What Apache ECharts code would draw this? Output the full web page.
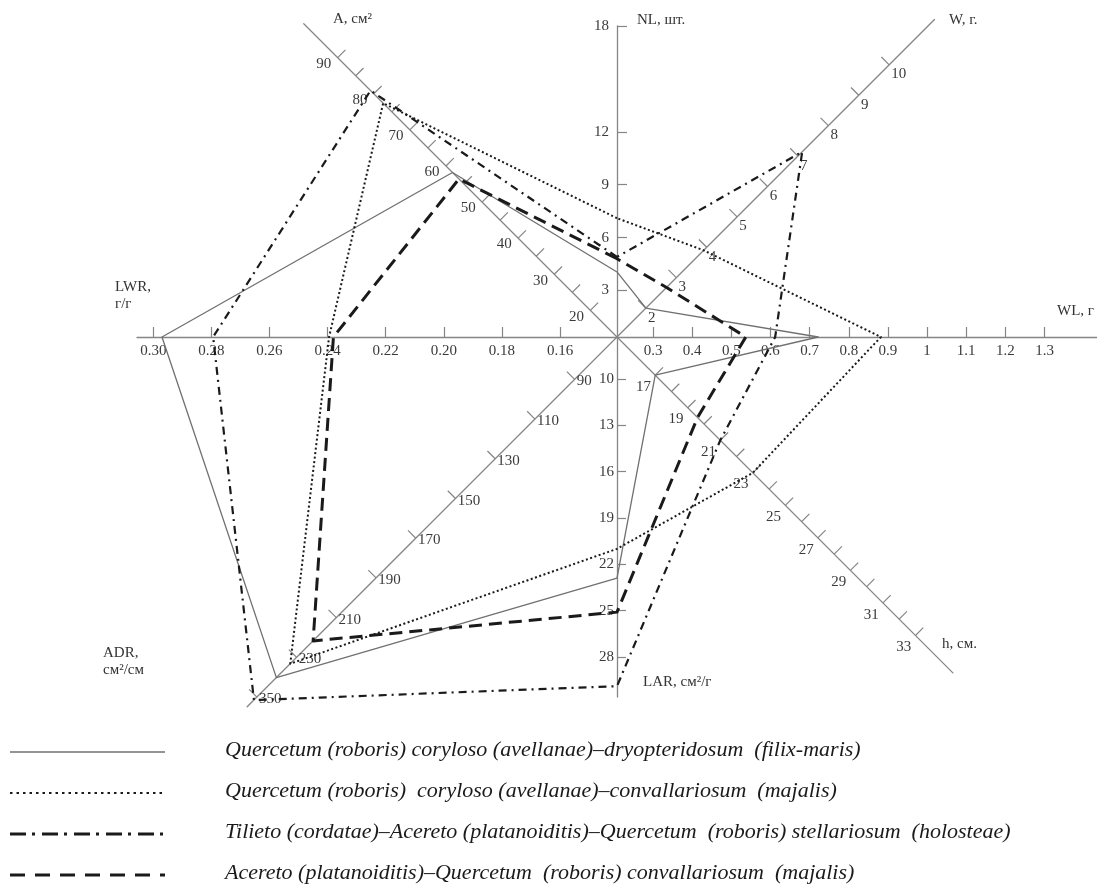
<!DOCTYPE html>
<html>
<head>
<meta charset="utf-8">
<title>Leaf indices of oak communities</title>
<script src="https://cdn.jsdelivr.net/npm/echarts@6/dist/echarts.min.js"></script>
<style>
  html, body { margin: 0; padding: 0; background: #fff; }
  #main { width: 1097px; height: 890px; }
</style>
</head>
<body>
<div id="main"></div>
<script>
// axes in radar order: counter-clockwise starting from the top
var axisNames = ['NL', 'A', 'LWR', 'ADR', 'LAR', 'h', 'WL', 'W'];

var communities = [
  'Quercetum (roboris) coryloso (avellanae)\u2013dryopteridosum  (filix-maris)',
  'Quercetum (roboris)  coryloso (avellanae)\u2013convallariosum  (majalis)',
  'Tilieto (cordatae)\u2013Acereto (platanoiditis)\u2013Quercetum  (roboris) stellariosum  (holosteae)',
  'Acereto (platanoiditis)\u2013Quercetum  (roboris) convallariosum  (majalis)'
];

// values, order NL, A, LWR, ADR, LAR, h, WL, W
var dryopteridosum = [4.05, 58.2, 0.297, 240.2, 22.9, 17.0, 0.722, 2.0];
var convallariosum = [7.1, 77.4, 0.2395, 233.2, 21.0, 23.0, 0.882, 3.9];
var stellariosum = [4.9, 80.9, 0.2794, 251.5, 29.9, 21.0, 0.612, 7.14];
var acerConvallariosum = [4.8, 56.4, 0.238, 221.7, 25.1, 19.6, 0.537, 2.68];

// tick marks and labels of every axis
var nlTicks = [3, 6, 9, 12, 18];
var aTicks = [20, 25, 30, 35, 40, 45, 50, 55, 60, 65, 70, 75, 80, 85, 90];
var aLabels = [20, 30, 40, 50, 60, 70, 80, 90];
var lwrTicks = [0.16, 0.18, 0.20, 0.22, 0.24, 0.26, 0.28, 0.30];
var adrTicks = [90, 110, 130, 150, 170, 190, 210, 230, 250];
var adrLabels = ['90', '110', '130', '150', '170', '190', '210', '230', '350']; // last one is printed as 350
var larTicks = [10, 13, 16, 19, 22, 25, 28];
var hTicks = [17, 18, 19, 20, 21, 22, 23, 24, 25, 26, 27, 28, 29, 30, 31, 32, 33];
var hLabels = [17, 19, 21, 23, 25, 27, 29, 31, 33];
var wlTicks = [0.3, 0.4, 0.5, 0.6, 0.7, 0.8, 0.9, 1, 1.1, 1.2, 1.3];
var wTicks = [2, 3, 4, 5, 6, 7, 8, 9, 10];

var CX = 617, CY = 337, R = 560;
var AXIS_COLOR = '#858585';
var LABEL_FONT = 'Liberation Serif';

// lo = value at the centre, hi = value at the far end of the drawn axis
var axes = [
  { angle: 90,  lo: 0.36,   hi: 18,     len: 311, ticks: nlTicks,  labels: nlTicks,  tickLen: -10, margin: 8,  align: 'right',  va: 'middle' },
  { angle: 135, lo: 12.62,  hi: 99.4,   len: 443, ticks: aTicks,   labels: aLabels,  tickLen: -11, margin: 9,  align: 'right',  va: 'middle' },
  { angle: 180, lo: 0.1404, hi: 0.3056, len: 480, ticks: lwrTicks, labels: lwrTicks, tickLen: -10, margin: 7,  align: 'center', va: 'top', digits: 2 },
  { angle: 225, lo: 68.68,  hi: 254.9,  len: 523, ticks: adrTicks, labels: adrTicks, tickLen: -11, margin: 3,  align: 'left',   va: 'middle', text: adrLabels },
  { angle: 270, lo: 7.27,   hi: 30.6,   len: 360, ticks: larTicks, labels: larTicks, tickLen: 9,   margin: -3, align: 'right',  va: 'middle' },
  { angle: 315, lo: 14.65,  hi: 35.3,   len: 475, ticks: hTicks,   labels: hLabels,  tickLen: 11,  margin: -6, align: 'right',  va: 'top' },
  { angle: 0,   lo: 0.208,  hi: 1.434,  len: 480, ticks: wlTicks,  labels: wlTicks,  tickLen: 10,  margin: -7, align: 'center', va: 'top' },
  { angle: 45,  lo: 1.05,   hi: 11.49,  len: 449, ticks: wTicks,   labels: wTicks,   tickLen: 11,  margin: -3, align: 'left',   va: 'top' }
];

var polar = [], angleAxis = [], radiusAxis = [];
axes.forEach(function (a, i) {
  polar.push({ center: [CX, CY], radius: a.len });
  angleAxis.push({ polarIndex: i, type: 'value', min: 0, max: 360, startAngle: a.angle, show: false });
  radiusAxis.push({
    polarIndex: i,
    type: 'value',
    min: a.lo,
    max: a.hi,
    axisLine: { show: true, lineStyle: { color: AXIS_COLOR, width: 1.3 } },
    axisTick: { show: true, customValues: a.ticks, length: a.tickLen, lineStyle: { color: AXIS_COLOR, width: 1.2 } },
    axisLabel: {
      show: true,
      customValues: a.labels,
      margin: a.margin,
      align: a.align,
      verticalAlign: a.va,
      color: '#3a3a3a',
      fontFamily: LABEL_FONT,
      fontSize: 15,
      formatter: function (v) {
        if (a.text) return a.text[a.ticks.indexOf(v)];
        if (a.digits) return v.toFixed(a.digits);
        return String(+v.toFixed(2));
      }
    },
    splitLine: { show: false },
    splitArea: { show: false }
  });
});

var lineStyles = [
  { color: '#707070', width: 1.3, type: 'solid' },
  { color: '#1a1a1a', width: 2, type: [2, 2.5] },
  { color: '#1a1a1a', width: 2.2, type: [8, 5, 2, 5] },
  { color: '#1a1a1a', width: 3, type: [13, 7] }
];
var seriesValues = [dryopteridosum, convallariosum, stellariosum, acerConvallariosum];

var graphics = [];
var titleStyle = { fill: '#333', font: '15px "Liberation Serif"' };
[
  ['A, см²', 333, 12], ['NL, шт.', 637, 13], ['W, г.', 949, 13], ['WL, г', 1057, 304],
  ['h, см.', 942, 637], ['LAR, см²/г', 643, 675], ['LWR,', 115, 280], ['г/г', 115, 297],
  ['ADR,', 103, 646], ['см²/см', 103, 663]
].forEach(function (t) {
  graphics.push({ type: 'text', left: t[1], top: t[2], silent: true,
    style: { text: t[0], fill: titleStyle.fill, font: titleStyle.font } });
});

// legend: line sample + community name
var legendDash = [null, [2.5, 4], [16, 6, 3, 7], [15, 10]];
var legendY = [752, 793, 834, 875];
communities.forEach(function (name, i) {
  graphics.push({
    type: 'line', silent: true,
    shape: { x1: 10, y1: legendY[i], x2: 165, y2: legendY[i] },
    style: { stroke: lineStyles[i].color, lineWidth: i === 0 ? 1.5 : (i === 1 ? 2 : 3), lineDash: legendDash[i] }
  });
  graphics.push({
    type: 'text', left: 225, top: legendY[i] - 13, silent: true,
    style: { text: name, fill: '#1a1a1a', font: 'italic 22px "Liberation Serif"' }
  });
});

var chart = echarts.init(document.getElementById('main'));
chart.setOption({
  animation: false,
  backgroundColor: '#fff',
  polar: polar,
  angleAxis: angleAxis,
  radiusAxis: radiusAxis,
  radar: {
    center: [CX, CY],
    radius: R,
    startAngle: 90,
    indicator: axes.map(function (a, i) {
      return { name: axisNames[i], min: a.lo, max: a.lo + (a.hi - a.lo) * R / a.len };
    }),
    axisName: { show: false },
    axisLine: { show: false },
    axisTick: { show: false },
    axisLabel: { show: false },
    splitLine: { show: false },
    splitArea: { show: false }
  },
  series: [{
    type: 'radar',
    symbol: 'none',
    silent: true,
    z: 3,
    data: seriesValues.map(function (vals, i) {
      return { name: communities[i], value: vals, lineStyle: lineStyles[i], areaStyle: { opacity: 0 } };
    })
  }],
  graphic: graphics
});
</script>
</body>
</html>
